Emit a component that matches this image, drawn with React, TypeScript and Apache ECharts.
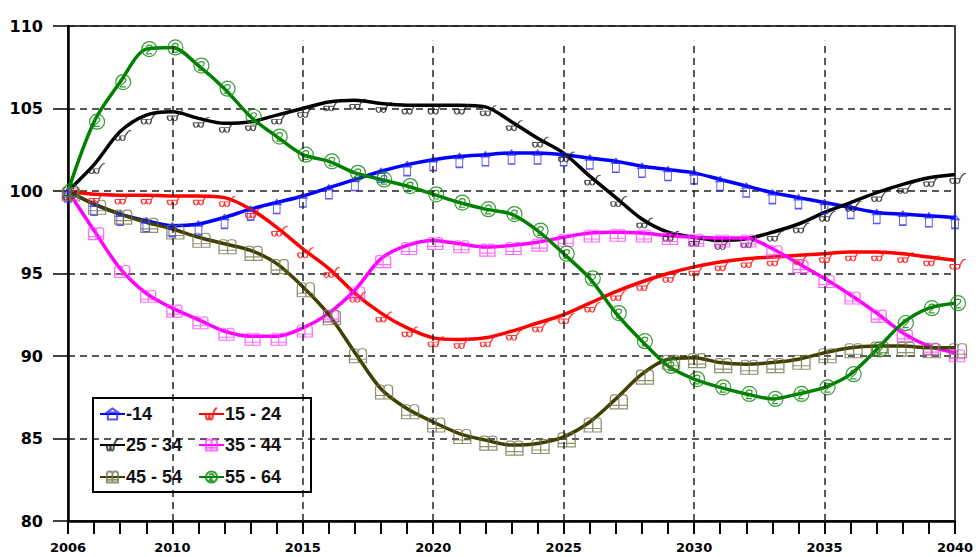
import React, { useEffect, useRef } from "react";
import * as echarts from "echarts";

// Years on the horizontal axis
const years = [
  2006, 2007, 2008, 2009, 2010, 2011, 2012, 2013, 2014, 2015, 2016, 2017,
  2018, 2019, 2020, 2021, 2022, 2023, 2024, 2025, 2026, 2027, 2028, 2029,
  2030, 2031, 2032, 2033, 2034, 2035, 2036, 2037, 2038, 2039, 2040,
];

// Index values per age group (2006 = 100)
const age0to14 = [
  100, 99.2, 98.6, 98.2, 97.9, 98.0, 98.4, 98.9, 99.3, 99.7, 100.2, 100.7,
  101.2, 101.6, 101.9, 102.1, 102.2, 102.3, 102.3, 102.2, 102.0, 101.8, 101.5, 101.3,
  101.1, 100.7, 100.3, 99.9, 99.6, 99.3, 99.0, 98.7, 98.6, 98.5, 98.4,
];
const age15to24 = [
  100, 99.8, 99.75, 99.75, 99.7, 99.7, 99.6, 98.9, 97.8, 96.5, 95.3, 93.8,
  92.6, 91.7, 91.1, 91.0, 91.1, 91.5, 92.0, 92.5, 93.2, 93.9, 94.5, 95.0,
  95.4, 95.7, 95.9, 96.0, 96.1, 96.2, 96.3, 96.3, 96.2, 96.0, 95.8,
];
const age25to34 = [
  100, 101.6, 103.6, 104.6, 104.8, 104.4, 104.1, 104.2, 104.6, 105.0, 105.4, 105.5,
  105.3, 105.2, 105.2, 105.2, 105.1, 104.2, 103.2, 102.3, 100.9, 99.6, 98.3, 97.5,
  97.2, 97.0, 97.1, 97.5, 98.0, 98.7, 99.3, 99.9, 100.4, 100.8, 101.0,
];
const age35to44 = [
  100, 97.6, 95.3, 93.8, 92.9, 92.2, 91.5, 91.2, 91.2, 91.7, 92.6, 94.0,
  95.9, 96.7, 97.0, 96.8, 96.6, 96.7, 96.9, 97.2, 97.45, 97.5, 97.45, 97.3,
  97.2, 97.15, 97.15, 96.5, 95.6, 94.7, 93.7, 92.6, 91.4, 90.6, 90.2,
];
const age45to54 = [
  100, 99.2, 98.6, 98.1, 97.7, 97.2, 96.8, 96.4, 95.6, 94.2, 92.5, 90.2,
  88.0, 86.8, 86.0, 85.3, 84.9, 84.6, 84.7, 85.1, 86.0, 87.4, 88.9, 89.8,
  89.9, 89.6, 89.5, 89.6, 89.8, 90.2, 90.5, 90.6, 90.6, 90.5, 90.5,
];
const age55to64 = [
  100, 104.2, 106.6, 108.6, 108.7, 107.6, 106.2, 104.5, 103.3, 102.2, 101.8, 101.1,
  100.7, 100.3, 99.8, 99.3, 98.9, 98.6, 97.6, 96.2, 94.7, 92.6, 90.9, 89.4,
  88.6, 88.1, 87.7, 87.4, 87.7, 88.1, 88.9, 90.4, 92.0, 92.9, 93.2,
];

const seriesNames = ["-14", "15 - 24", "25 - 34", "35 - 44", "45 - 54", "55 - 64"];
const gridYears = [2010, 2015, 2020, 2025, 2030, 2035];

// Marker outlines
const boxArrow = "path://M4,0 L1,5 L7,5 Z M1.5,5 L1.5,14 L6.5,14 L6.5,5 Z";
const cupsCurl =
  "path://M0,5 C0,10 5,10 5,5 M5,5 C5,10 10,10 10,5 M0,5 L10,5 M10,5 C12,3 13,0 16,1";
const twinBoxes =
  "path://M0,12 L0,3 Q0,0 3,0 L5,0 Q8,0 8,3 L8,12 Z M8,12 L8,3 Q8,0 11,0 L13,0 Q16,0 16,3 L16,12 Z M0,9 L16,9";
const ringTwo =
  "path://M8,0 C12.42,0 16,3.58 16,8 C16,12.42 12.42,16 8,16 C3.58,16 0,12.42 0,8 C0,3.58 3.58,0 8,0 Z M5,6 C5,3 11,3 11,6 C11,9 5,10 5,13 L11,13";

const seriesDefs = [
  { name: seriesNames[0], values: age0to14, line: "#0000ff", mark: "rgba(40,40,255,0.8)", symbol: boxArrow, size: [8, 14], offset: [0, 4] },
  { name: seriesNames[1], values: age15to24, line: "#ff0000", mark: "rgba(255,20,20,0.85)", symbol: cupsCurl, size: [16, 10], offset: [3, 4] },
  { name: seriesNames[2], values: age25to34, line: "#000000", mark: "rgba(20,20,20,0.75)", symbol: cupsCurl, size: [16, 10], offset: [3, 4] },
  { name: seriesNames[3], values: age35to44, line: "#ff00ff", mark: "rgba(255,60,255,0.75)", symbol: twinBoxes, size: [15, 12], offset: [2, 3] },
  { name: seriesNames[4], values: age45to54, line: "#404000", mark: "rgba(110,110,70,0.75)", symbol: twinBoxes, size: [17, 14], offset: [3, 3] },
  { name: seriesNames[5], values: age55to64, line: "#008000", mark: "rgba(20,140,20,0.85)", symbol: ringTwo, size: [15, 15], offset: [3, 0] },
];

const legendSlots = [
  { left: 99, top: 405 },
  { left: 198, top: 405 },
  { left: 99, top: 436 },
  { left: 198, top: 436 },
  { left: 99, top: 468 },
  { left: 198, top: 468 },
];

export default function App() {
  const ref = useRef<HTMLDivElement>(null);

  useEffect(() => {
    if (!ref.current) return;
    const chart = echarts.init(ref.current, null, { renderer: "svg" });

    const dashed = { type: [7, 5] as number[], color: "#222", width: 1.5 };

    const lineSeries = seriesDefs.map((d) => ({
      name: d.name,
      type: "line",
      data: years.map((y, i) => [y, d.values[i]]),
      smooth: 0.3,
      symbol: d.symbol,
      symbolSize: d.size,
      symbolOffset: d.offset,
      showSymbol: true,
      showAllSymbol: true,
      lineStyle: { color: d.line, width: 3.5 },
      itemStyle: { color: "rgba(255,255,255,0)", borderColor: d.mark, borderWidth: 1.2 },
      emphasis: { disabled: true },
      silent: true,
      z: 3,
    }));

    const gridSeries = {
      name: "grid",
      type: "line",
      data: [],
      silent: true,
      z: 1,
      markLine: {
        silent: true,
        symbol: ["none", "none"],
        label: { show: false },
        lineStyle: dashed,
        data: gridYears.map((g) => [
          { coord: [g, 80] },
          { coord: [g, 109.1] },
        ]),
      },
    };

    chart.setOption({
      animation: false,
      backgroundColor: "#ffffff",
      grid: {
        left: 68,
        right: 23,
        top: 26,
        bottom: 36,
        show: true,
        borderColor: "#000",
        borderWidth: 1.5,
        backgroundColor: "transparent",
      },
      xAxis: {
        type: "value",
        min: 2006,
        max: 2040,
        interval: 1,
        axisLine: { show: true, lineStyle: { color: "#000", width: 2.5 } },
        axisTick: { show: true, inside: false, length: 13, lineStyle: { color: "#000", width: 2 } },
        axisLabel: {
          margin: 20,
          fontFamily: "DejaVu Sans",
          fontWeight: "bold",
          fontSize: 13,
          color: "#000",
          showMaxLabel: true,
          showMinLabel: true,
          formatter: (v: number) => (v === 2006 || v % 5 === 0 ? String(v) : ""),
        },
        splitLine: { show: false },
      },
      yAxis: {
        type: "value",
        min: 80,
        max: 110,
        interval: 5,
        axisLine: { show: true, lineStyle: { color: "#000", width: 2.5 } },
        axisTick: { show: true, inside: false, length: 15, lineStyle: { color: "#000", width: 1.5 } },
        axisLabel: {
          margin: 25,
          fontFamily: "DejaVu Sans",
          fontWeight: "bold",
          fontSize: 16,
          color: "#000",
        },
        splitLine: { show: true, lineStyle: dashed },
      },
      legend: seriesNames.map((n, i) => ({
        data: [n],
        left: legendSlots[i].left,
        top: legendSlots[i].top,
        padding: 0,
        itemWidth: 25,
        itemHeight: 14,
        itemGap: 0,
        selectedMode: false,
        textStyle: {
          fontFamily: "Liberation Sans",
          fontWeight: "bold",
          fontSize: 18,
          color: "#111",
          padding: [0, 0, 0, -4],
        },
      })),
      graphic: [
        {
          type: "rect",
          shape: { x: 93, y: 398, width: 218, height: 94 },
          style: { fill: "none", stroke: "#000", lineWidth: 2 },
          silent: true,
          z: 10,
        },
      ],
      series: [gridSeries, ...lineSeries],
    });

    return () => chart.dispose();
  }, []);

  return (
    <div
      ref={ref}
      style={{ position: "fixed", left: 0, top: 0, width: 978, height: 557 }}
    />
  );
}
